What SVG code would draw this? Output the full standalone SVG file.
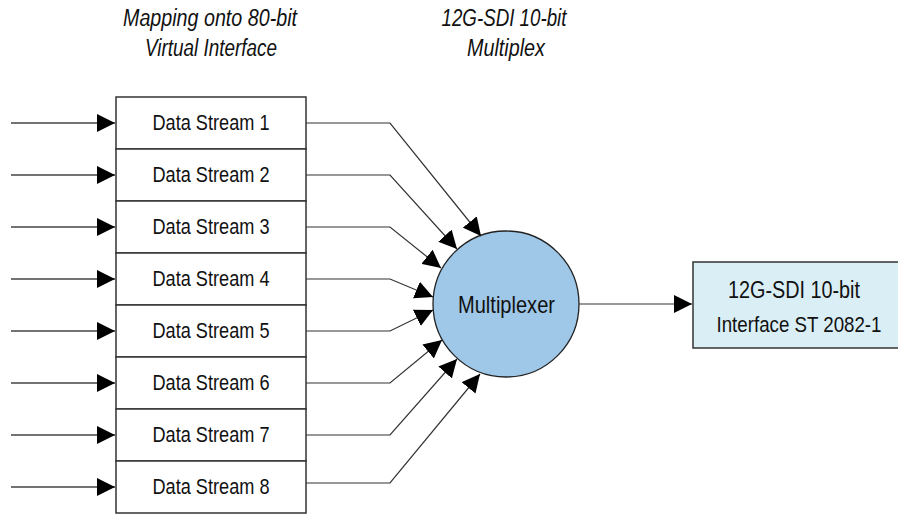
<svg xmlns="http://www.w3.org/2000/svg" width="898" height="514" viewBox="0 0 898 514">
<style>
text{font-family:"Liberation Sans","DejaVu Sans Condensed",sans-serif;fill:#111;text-anchor:middle}
.title{font-style:italic;font-size:23px}
.ds{font-size:22.5px}
.row{fill:#fff;stroke:#333;stroke-width:1.5}
.in{stroke:#444;stroke-width:1.4;fill:none}
.out{stroke:#333;stroke-width:1.2;fill:none}
</style>
<defs>
<marker id="ah" markerUnits="userSpaceOnUse" markerWidth="18" markerHeight="18" refX="18" refY="9" orient="auto" viewBox="0 0 18 18">
<path d="M0,0 L18,9 L0,18 z" fill="#000"/>
</marker>
</defs>
<g id="titles">
<text class="title" x="210" y="26" textLength="174" lengthAdjust="spacingAndGlyphs">Mapping onto 80-bit</text>
<text class="title" x="211" y="56" textLength="132" lengthAdjust="spacingAndGlyphs">Virtual Interface</text>
<text class="title" x="504" y="26" textLength="125" lengthAdjust="spacingAndGlyphs">12G-SDI 10-bit</text>
<text class="title" x="506" y="56" textLength="78" lengthAdjust="spacingAndGlyphs">Multiplex</text>
</g>
<g id="stream1"><rect class="row" x="116" y="97" width="190" height="52"/><text class="ds" x="211" y="130" textLength="117" lengthAdjust="spacingAndGlyphs">Data Stream 1</text></g>
<g id="stream2"><rect class="row" x="116" y="149" width="190" height="52"/><text class="ds" x="211" y="182" textLength="117" lengthAdjust="spacingAndGlyphs">Data Stream 2</text></g>
<g id="stream3"><rect class="row" x="116" y="201" width="190" height="52"/><text class="ds" x="211" y="234" textLength="117" lengthAdjust="spacingAndGlyphs">Data Stream 3</text></g>
<g id="stream4"><rect class="row" x="116" y="253" width="190" height="52"/><text class="ds" x="211" y="286" textLength="117" lengthAdjust="spacingAndGlyphs">Data Stream 4</text></g>
<g id="stream5"><rect class="row" x="116" y="305" width="190" height="52"/><text class="ds" x="211" y="338" textLength="117" lengthAdjust="spacingAndGlyphs">Data Stream 5</text></g>
<g id="stream6"><rect class="row" x="116" y="357" width="190" height="52"/><text class="ds" x="211" y="390" textLength="117" lengthAdjust="spacingAndGlyphs">Data Stream 6</text></g>
<g id="stream7"><rect class="row" x="116" y="409" width="190" height="52"/><text class="ds" x="211" y="442" textLength="117" lengthAdjust="spacingAndGlyphs">Data Stream 7</text></g>
<g id="stream8"><rect class="row" x="116" y="461" width="190" height="52"/><text class="ds" x="211" y="494" textLength="117" lengthAdjust="spacingAndGlyphs">Data Stream 8</text></g>
<g id="multiplexer">
<circle cx="506" cy="304" r="73" fill="#9fc8e8" stroke="#222" stroke-width="1.3"/>
<text x="506.5" y="313" style="font-size:24.5px" textLength="97" lengthAdjust="spacingAndGlyphs">Multiplexer</text>
</g>
<g id="interface">
<rect x="693" y="262" width="205" height="86" fill="#d9eef5"/>
<path d="M898,262 H693 V348 H898" fill="none" stroke="#333" stroke-width="1.5"/>
<text x="794" y="298" style="font-size:23px" textLength="132" lengthAdjust="spacingAndGlyphs">12G-SDI 10-bit</text>
<text x="799" y="332" style="font-size:21.5px" textLength="165" lengthAdjust="spacingAndGlyphs">Interface ST 2082-1</text>
</g>
<g id="connectors">
<line class="in" x1="11" y1="123" x2="115" y2="123" marker-end="url(#ah)"/>
<line class="in" x1="11" y1="175" x2="115" y2="175" marker-end="url(#ah)"/>
<line class="in" x1="11" y1="227" x2="115" y2="227" marker-end="url(#ah)"/>
<line class="in" x1="11" y1="279" x2="115" y2="279" marker-end="url(#ah)"/>
<line class="in" x1="11" y1="331" x2="115" y2="331" marker-end="url(#ah)"/>
<line class="in" x1="11" y1="383" x2="115" y2="383" marker-end="url(#ah)"/>
<line class="in" x1="11" y1="435" x2="115" y2="435" marker-end="url(#ah)"/>
<line class="in" x1="11" y1="487" x2="115" y2="487" marker-end="url(#ah)"/>
<polyline class="out" points="306,123 390,123 481,236" marker-end="url(#ah)"/>
<polyline class="out" points="306,175 390,175 457,249" marker-end="url(#ah)"/>
<polyline class="out" points="306,227 390,227 441,268" marker-end="url(#ah)"/>
<polyline class="out" points="306,279 390,279 433,297" marker-end="url(#ah)"/>
<polyline class="out" points="306,331 390,331 433,310" marker-end="url(#ah)"/>
<polyline class="out" points="306,383 390,383 442,340" marker-end="url(#ah)"/>
<polyline class="out" points="306,435 390,435 457,359" marker-end="url(#ah)"/>
<polyline class="out" points="306,483 390,483 480,374" marker-end="url(#ah)"/>
<line class="out" x1="579" y1="304" x2="692" y2="304" marker-end="url(#ah)"/>
</g>
</svg>
